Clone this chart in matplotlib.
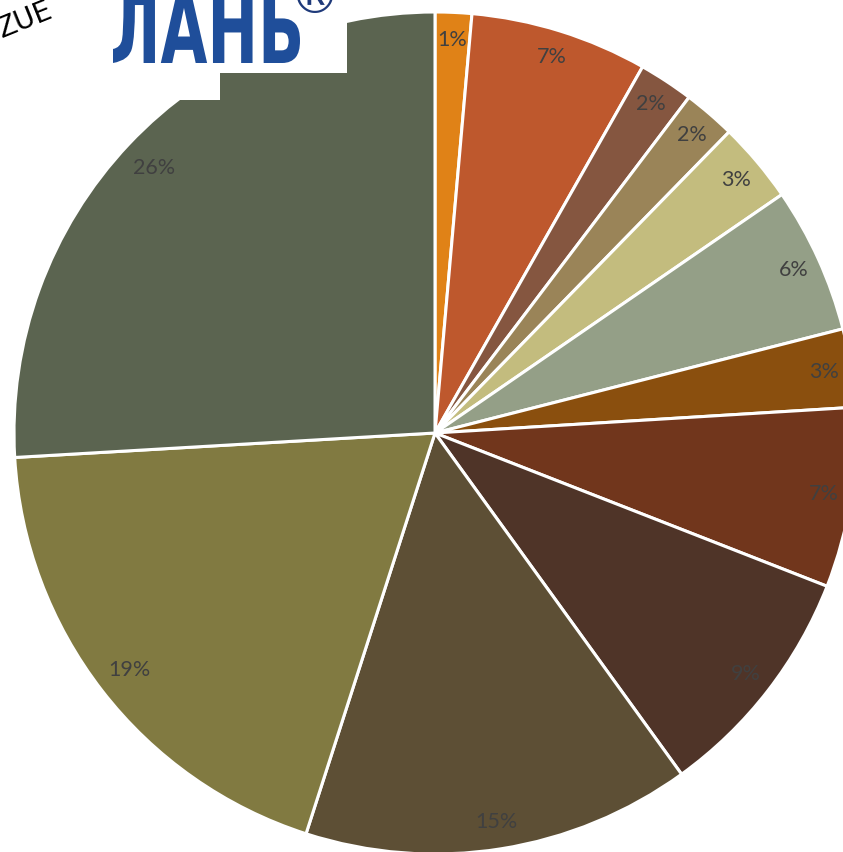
import matplotlib
matplotlib.use("Agg")
import numpy as np
import matplotlib.pyplot as plt
from matplotlib.patches import Rectangle, PathPatch
from matplotlib.textpath import TextPath
from matplotlib.font_manager import FontProperties
from matplotlib.transforms import Affine2D

# shares, clockwise from 12 o'clock
shares = [1.4, 6.8, 2.1, 2.0, 3.1, 5.6, 3.0, 6.9, 9.1, 14.9, 19.1, 25.9]
colors = ['#E08217', '#BE582D', '#855640', '#9A8458', '#C3BC7E', '#949F87',
          '#8A4F0E', '#71361C', '#4F3428', '#5D4F35', '#817A41', '#5B6450']

W, H = 843, 852
fig = plt.figure(figsize=(W / 100, H / 100), dpi=100, facecolor='white')
ax = fig.add_axes([0, 0, 1, 1])
ax.set_xlim(0, W)
ax.set_ylim(0, H)
ax.set_aspect('equal')
ax.axis('off')

cx, cy, r = 435, H - 433, 421
wedges, texts, autotexts = ax.pie(
    shares, colors=colors, startangle=90, counterclock=False,
    center=(cx, cy), radius=r, autopct='%.0f%%', pctdistance=0.935,
    wedgeprops=dict(edgecolor='white', linewidth=2.2),
    textprops=dict(color='#404040', fontsize=15.5, family=['Lato', 'DejaVu Sans']))
ax.set_xlim(0, W)
ax.set_ylim(0, H)

# the two big slices have their labels a bit further in
for w, t in zip(wedges, autotexts):
    if w.theta2 - w.theta1 > 60:
        ang = np.deg2rad((w.theta1 + w.theta2) / 2)
        t.set_position((cx + 0.918 * r * np.cos(ang), cy + 0.918 * r * np.sin(ang)))

# logo patch on top
ax.add_patch(Rectangle((0, H - 73), 347, 73, facecolor='white', edgecolor='none', zorder=5))
ax.add_patch(Rectangle((0, H - 100), 220, 100, facecolor='white', edgecolor='none', zorder=5))

# squeeze the logo word into its box (x 113..300, baseline at y=63 from top)
logo = TextPath((0, 0), 'ЛАНЬ', size=100,
                prop=FontProperties(family='DejaVu Sans', weight='bold'))
ext = logo.get_extents()
sx = 187 / ext.width
sy = 72 / ext.height
tr = Affine2D().translate(-ext.x0, -ext.y0).scale(sx, sy).translate(113, H - 63)
ax.add_patch(PathPatch(tr.transform_path(logo), facecolor='#1F4E9A',
                       edgecolor='none', zorder=6))
ax.text(314, H + 1, '®', color='#1F3A7A', fontsize=36,
        family=['DejaVu Sans'], ha='center', va='center', zorder=6)
ax.text(-6, H - 20, 'ZUE', color='black', fontsize=20, rotation=22,
        ha='left', va='center', zorder=6)

fig.savefig('out.png', dpi=100, facecolor='white')
